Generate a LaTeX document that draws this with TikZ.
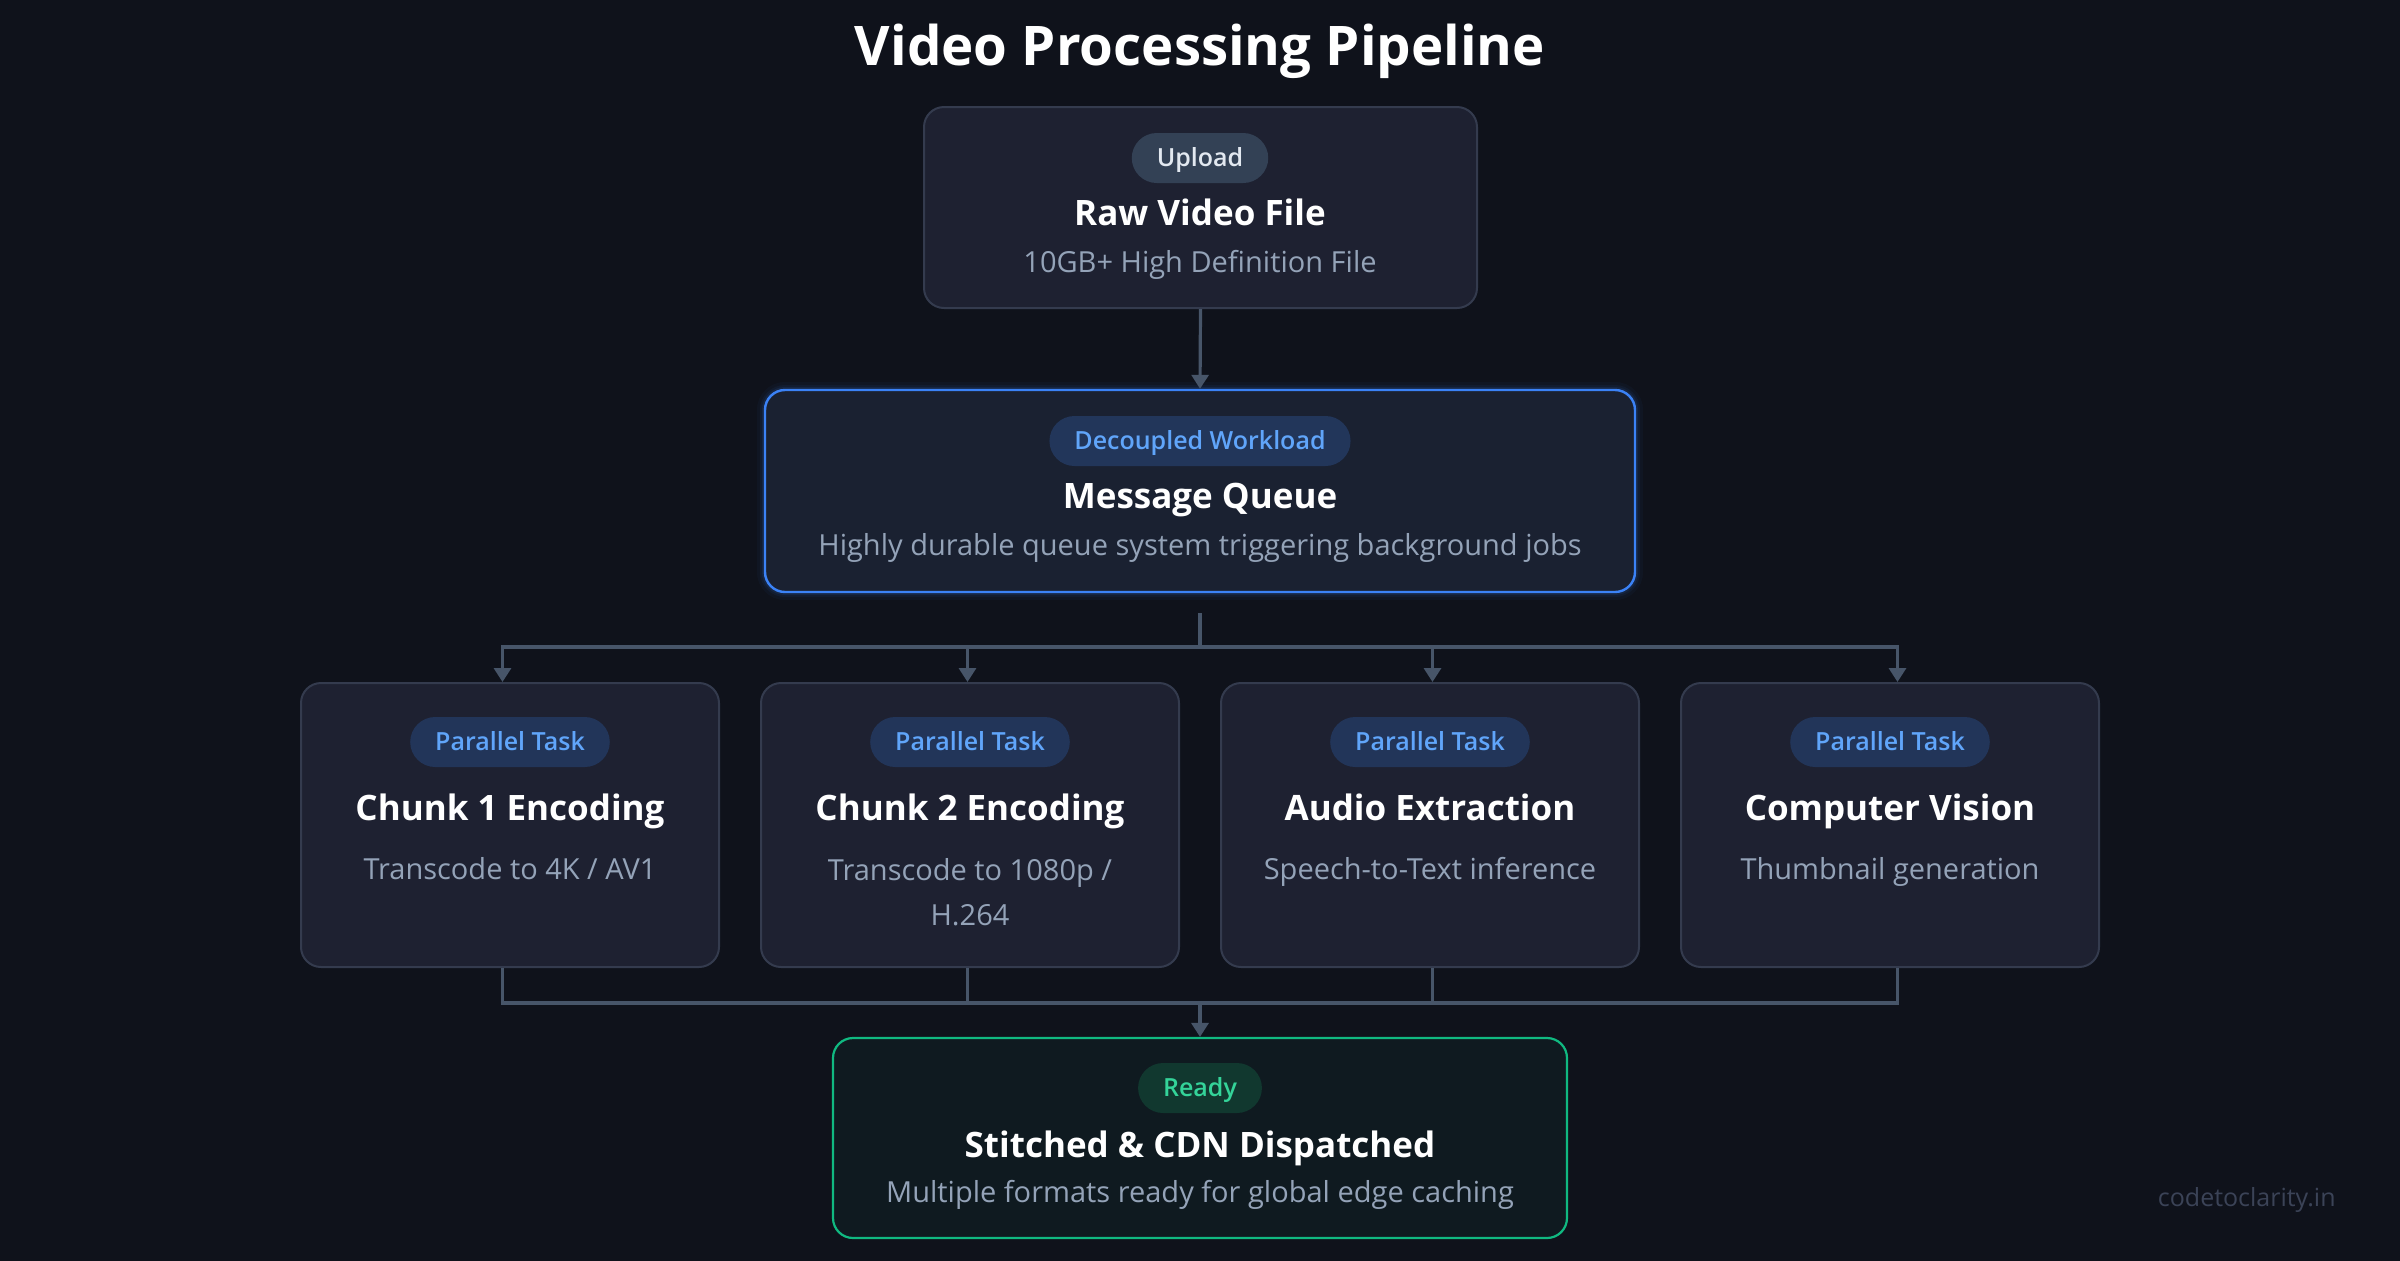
\documentclass[tikz,border=0pt]{standalone}
\usepackage{fontspec}
\setmainfont{Open Sans}
\IfFontExistsTF{Open Sans SemiBold}{\newfontfamily\semib{Open Sans SemiBold}}{%
  \IfFontExistsTF{Open Sans Semibold}{\newfontfamily\semib{Open Sans Semibold}}{\newcommand\semib{\bfseries}}}
\IfFontExistsTF{Open Sans ExtraBold}{\newfontfamily\xbold{Open Sans ExtraBold}\newcommand\titlesize{26.2}}{%
  \newcommand\xbold{\bfseries}\newcommand\titlesize{27.3}}
\usetikzlibrary{arrows.meta}
\definecolor{bg}{HTML}{0F121B}
\definecolor{cardfill}{HTML}{1E2131}
\definecolor{cardline}{HTML}{343B4E}
\definecolor{qfill}{HTML}{1A2131}
\definecolor{qline}{HTML}{3B82F6}
\definecolor{rfill}{HTML}{0F1A20}
\definecolor{rline}{HTML}{10B981}
\definecolor{conn}{HTML}{475569}
\definecolor{desc}{HTML}{94A3B8}
\definecolor{upfill}{HTML}{334155}
\definecolor{uptext}{HTML}{E2E8F0}
\definecolor{qbfill}{HTML}{22365A}
\definecolor{pfill}{HTML}{223559}
\definecolor{ptext}{HTML}{60A5FA}
\definecolor{gfill}{HTML}{11382F}
\definecolor{gtext}{HTML}{34D399}
\definecolor{wm}{HTML}{3B4357}
\tikzset{
  card/.style={draw=cardline, line width=1pt, fill=cardfill, rounded corners=10pt, inner sep=0pt},
  badge/.style={rounded corners=12.5pt, minimum height=25pt, inner xsep=12.5pt, inner ysep=0pt,
    font=\semib\fontsize{12.5}{15}\selectfont, text height=8.9pt, text depth=0pt},
  ttl/.style={font=\bfseries\fontsize{17.5}{21}\selectfont, text=white, inner sep=0pt, text height=12.5pt, text depth=0pt},
  dsc/.style={font=\fontsize{14.5}{22.5}\selectfont, text=desc, inner sep=0pt, text height=10.35pt, text depth=0pt},
  ln/.style={draw=conn, line width=1.6pt},
  arr/.style={draw=conn, line width=1.6pt, -{Triangle[width=8.5pt,length=7pt]}},
}
\begin{document}
\begin{tikzpicture}[x=0.5pt,y=-0.5pt]
\useasboundingbox (0,0) rectangle (2400,1260);
\fill[bg] (-10,-10) rectangle (2410,1270);

\node[font=\xbold\fontsize{\titlesize}{32}\selectfont, text=white, inner sep=0pt, text height=19.5pt, text depth=0pt] (title) at (1200,46) {Video Processing Pipeline};

% Upload card
\node[card, minimum width=276.5pt, minimum height=100.5pt] (raw) at (1200.5,207.5) {};
\node[badge, fill=upfill, text=uptext] (rawb) at (1200,158) {Upload};
\node[ttl] (rawt) at (1200,213) {Raw Video File};
\node[dsc] (rawd) at (1200,262) {10GB+ High Definition File};

% Message queue card with glow
\foreach \w/\o in {8/0.04,5/0.06,3/0.1}
  \draw[qline, line width=\w pt, opacity=\o, rounded corners=10pt] (765,390) rectangle (1635,592);
\node[card, fill=qfill, draw=qline, line width=1.2pt, minimum width=435pt, minimum height=101pt] (mq) at (1200,491) {};
\node[badge, fill=qbfill, text=ptext] (mqb) at (1200,441) {Decoupled Workload};
\node[ttl] (mqt) at (1200,496) {Message Queue};
\node[dsc] (mqd) at (1200,545) {Highly durable queue system triggering background jobs};

% Parallel cards
\node[card, minimum width=209pt, minimum height=142pt] (c1) at (510,825) {};
\node[card, minimum width=209pt, minimum height=142pt] (c2) at (970,825) {};
\node[card, minimum width=209pt, minimum height=142pt] (c3) at (1430,825) {};
\node[card, minimum width=209pt, minimum height=142pt] (c4) at (1890,825) {};

\node[badge, fill=pfill, text=ptext] (c1b) at (510,742) {Parallel Task};
\node[badge, fill=pfill, text=ptext] (c2b) at (970,742) {Parallel Task};
\node[badge, fill=pfill, text=ptext] (c3b) at (1430,742) {Parallel Task};
\node[badge, fill=pfill, text=ptext] (c4b) at (1890,742) {Parallel Task};

\node[ttl] (c1t) at (510,808) {Chunk 1 Encoding};
\node[ttl] (c2t) at (970,808) {Chunk 2 Encoding};
\node[ttl] (c3t) at (1430,808) {Audio Extraction};
\node[ttl] (c4t) at (1890,808) {Computer Vision};

\node[dsc] (c1d) at (510,869) {Transcode to 4K / AV1};
\node[dsc, text height=, align=center, anchor=north] (c2d) at (970,858) {Transcode to 1080p /\\H.264};
\node[dsc] (c3d) at (1430,869) {Speech-to-Text inference};
\node[dsc] (c4d) at (1890,869) {Thumbnail generation};

% Final card
\node[card, fill=rfill, draw=rline, line width=1.1pt, minimum width=367pt, minimum height=100pt] (fin) at (1200,1138) {};
\node[badge, fill=gfill, text=gtext] (finb) at (1200,1088) {Ready};
\node[ttl] (fint) at (1200,1145) {Stitched \& CDN Dispatched};
\node[dsc] (find) at (1200,1192) {Multiple formats ready for global edge caching};

% Watermark
\node[anchor=east, font=\fontsize{12.5}{15}\selectfont, text=wm, inner sep=0pt, text height=9pt, text depth=0pt] (wmk) at (2336,1197) {codetoclarity.in};

% Connectors
\draw[arr] (raw.south) -- (mq.north);

\coordinate (tj) at (1200,647);
\coordinate (t1) at (502.5,647);
\coordinate (t2) at (967.5,647);
\coordinate (t3) at (1432.5,647);
\coordinate (t4) at (1897.5,647);
\draw[ln] ([yshift=-10pt]mq.south) -- (tj);
\draw[ln, line cap=rect] (t1) -- (t4);
\draw[arr] (t1) -- (t1 |- c1.north);
\draw[arr] (t2) -- (t2 |- c2.north);
\draw[arr] (t3) -- (t3 |- c3.north);
\draw[arr] (t4) -- (t4 |- c4.north);

\coordinate (bj) at (1200,1003);
\coordinate (b1) at (502.5,1003);
\coordinate (b2) at (967.5,1003);
\coordinate (b3) at (1432.5,1003);
\coordinate (b4) at (1897.5,1003);
\draw[ln, line join=miter] (b1 |- c1.south) -- (b1) -- (b4) -- (b4 |- c4.south);
\draw[ln] (b2 |- c2.south) -- (b2);
\draw[ln] (b3 |- c3.south) -- (b3);
\draw[arr] (bj) -- (fin.north);
\end{tikzpicture}
\end{document}
